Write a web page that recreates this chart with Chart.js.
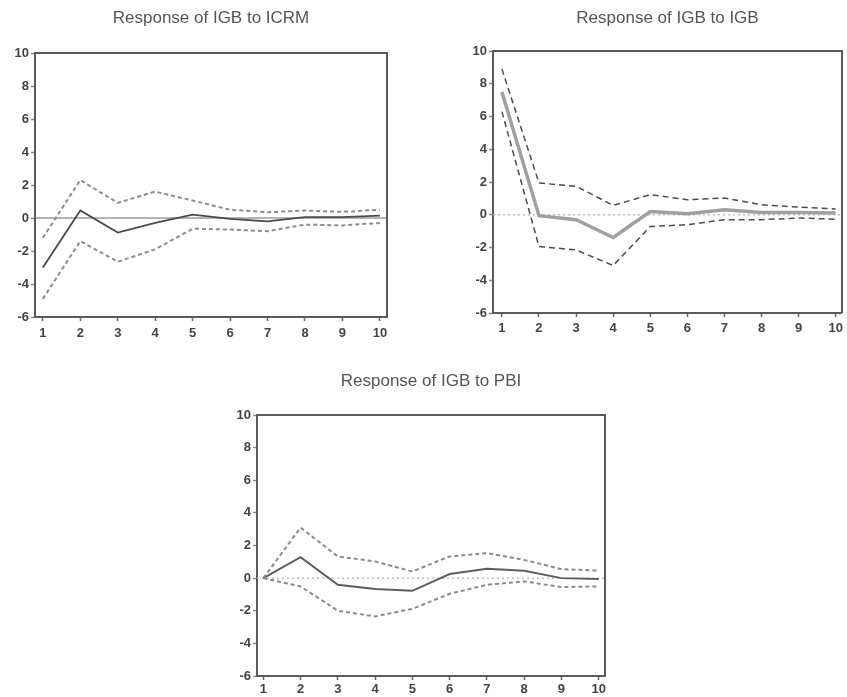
<!DOCTYPE html>
<html>
<head>
<meta charset="utf-8">
<script src="https://cdn.jsdelivr.net/npm/chart.js@4/dist/chart.umd.min.js"></script>
<style>
  body { margin: 0; background: #fff; }
  #wrap { position: relative; width: 847px; height: 697px; overflow: hidden; }
  .box { position: absolute; }
</style>
</head>
<body>
<div id="wrap">
  <div class="box" style="left:0;top:0;width:400px;height:345px"><canvas id="c1"></canvas></div>
  <div class="box" style="left:440px;top:0;width:407px;height:345px"><canvas id="c2"></canvas></div>
  <div class="box" style="left:200px;top:355px;width:420px;height:342px"><canvas id="c3"></canvas></div>
</div>
<script>
// periods (x) and tick labels
const periods = [1, 2, 3, 4, 5, 6, 7, 8, 9, 10];
const yTicks = [-6, -4, -2, 0, 2, 4, 6, 8, 10];

// Response of IGB to ICRM
const icrmResp  = [-3.0, 0.45, -0.88, -0.3, 0.2, -0.05, -0.2, 0.05, 0.05, 0.15];
const icrmUpper = [-1.2, 2.3, 0.92, 1.6, 1.06, 0.5, 0.35, 0.45, 0.37, 0.5];
const icrmLower = [-4.9, -1.4, -2.65, -1.9, -0.65, -0.7, -0.8, -0.4, -0.45, -0.3];

// Response of IGB to IGB
const igbResp  = [7.5, -0.06, -0.3, -1.39, 0.2, 0.06, 0.3, 0.14, 0.14, 0.1];
const igbUpper = [8.9, 1.94, 1.74, 0.57, 1.23, 0.92, 1.02, 0.61, 0.47, 0.35];
const igbLower = [6.3, -1.94, -2.15, -3.1, -0.72, -0.61, -0.3, -0.3, -0.2, -0.27];

// Response of IGB to PBI
const pbiResp  = [0, 1.29, -0.41, -0.67, -0.78, 0.25, 0.57, 0.45, 0, -0.06];
const pbiUpper = [0, 3.1, 1.33, 1.02, 0.41, 1.33, 1.53, 1.12, 0.55, 0.47];
const pbiLower = [0, -0.51, -2.0, -2.35, -1.88, -0.96, -0.41, -0.2, -0.55, -0.51];

const FONT = "'Liberation Sans', Arial, sans-serif";

// box around plot + zero reference line
const framePlugin = {
  id: 'frame',
  beforeDatasetsDraw(chart, args, opts) {
    const a = chart.chartArea, ctx = chart.ctx;
    const y0 = chart.scales.y.getPixelForValue(0);
    ctx.save();
    ctx.strokeStyle = opts.zeroColor;
    ctx.lineWidth = opts.zeroWidth;
    ctx.setLineDash(opts.zeroDash);
    ctx.beginPath();
    ctx.moveTo(a.left, y0);
    ctx.lineTo(a.right, y0);
    ctx.stroke();
    ctx.restore();
  },
  afterDraw(chart, args, opts) {
    const a = chart.chartArea, ctx = chart.ctx;
    ctx.save();
    ctx.strokeStyle = '#5a5a5a';
    ctx.lineWidth = 2;
    ctx.beginPath();
    ctx.moveTo(a.left, a.top);
    ctx.lineTo(a.right, a.top);
    ctx.lineTo(a.right, a.bottom);
    ctx.stroke();
    ctx.restore();
  }
};

function pts(vals) {
  return periods.map((p, i) => ({ x: p, y: vals[i] }));
}

function makeChart(id, title, resp, upper, lower, s) {
  const band = (data) => ({
    data: pts(data),
    borderColor: s.bandColor,
    borderWidth: s.bandWidth,
    borderDash: s.bandDash,
    pointRadius: 0,
    tension: 0
  });
  return new Chart(document.getElementById(id), {
    type: 'line',
    data: {
      datasets: [
        band(upper),
        band(lower),
        {
          data: pts(resp),
          borderColor: s.mainColor,
          borderWidth: s.mainWidth,
          pointRadius: 0,
          tension: 0
        }
      ]
    },
    options: {
      responsive: true,
      maintainAspectRatio: false,
      animation: false,
      layout: { padding: s.pad },
      plugins: {
        legend: { display: false },
        tooltip: { enabled: false },
        title: {
          display: true,
          fullSize: false,
          text: title,
          color: '#555',
          font: { family: FONT, size: 17, weight: 'normal' },
          padding: s.titlePad
        },
        frame: { zeroColor: s.zeroColor, zeroWidth: s.zeroWidth, zeroDash: s.zeroDash }
      },
      scales: {
        x: {
          type: 'linear',
          min: s.xMin,
          max: s.xMax,
          afterBuildTicks: sc => { sc.ticks = periods.map(v => ({ value: v })); },
          afterFit: sc => { sc.height = s.xH; },
          grid: { drawOnChartArea: false, drawTicks: true, tickLength: 4, color: '#666', tickWidth: 1.5 },
          border: { display: true, color: '#5a5a5a', width: 2 },
          ticks: { color: '#444', padding: s.xPad, maxRotation: 0, font: { family: FONT, size: 13, weight: 'bold' } }
        },
        y: {
          min: -6,
          max: 10,
          afterBuildTicks: sc => { sc.ticks = yTicks.map(v => ({ value: v })); },
          afterFit: sc => { sc.width = s.yW; },
          grid: { drawOnChartArea: false, drawTicks: true, tickLength: 4, color: '#888', tickWidth: 1.5 },
          border: { display: true, color: '#5a5a5a', width: 2 },
          ticks: { color: '#444', padding: 2, font: { family: FONT, size: 13, weight: 'bold' } }
        }
      }
    },
    plugins: [framePlugin]
  });
}

makeChart('c1', 'Response of IGB to ICRM', icrmResp, icrmUpper, icrmLower, {
  mainColor: '#4a4a4a', mainWidth: 1.8,
  bandColor: '#8c8c8c', bandWidth: 2, bandDash: [4, 3],
  zeroColor: '#6a6a6a', zeroWidth: 1, zeroDash: [],
  xMin: 0.79, xMax: 10.19, xH: 28, yW: 35, xPad: 5,
  pad: { top: 0, right: 13, bottom: 0, left: 0 },
  titlePad: { top: 7.8, bottom: 24.8 }
});

makeChart('c2', 'Response of IGB to IGB', igbResp, igbUpper, igbLower, {
  mainColor: '#a0a0a0', mainWidth: 3.5,
  bandColor: '#4d4d4d', bandWidth: 1.5, bandDash: [6, 4],
  zeroColor: '#bdbdbd', zeroWidth: 1.5, zeroDash: [2, 3],
  xMin: 0.76, xMax: 10.17, xH: 28, yW: 53, xPad: 4,
  pad: { top: 0, right: 5, bottom: 4, left: 0 },
  titlePad: { top: 7.8, bottom: 22.8 }
});

makeChart('c3', 'Response of IGB to PBI', pbiResp, pbiUpper, pbiLower, {
  mainColor: '#5e5e5e', mainWidth: 2,
  bandColor: '#8a8a8a', bandWidth: 2, bandDash: [4, 3],
  zeroColor: '#c0c0c0', zeroWidth: 1.5, zeroDash: [2, 3],
  xMin: 0.83, xMax: 10.17, xH: 21, yW: 57, xPad: 2,
  pad: { top: 0, right: 15, bottom: 0, left: 0 },
  titlePad: { top: 15.8, bottom: 23.8 }
});
</script>
</body>
</html>
